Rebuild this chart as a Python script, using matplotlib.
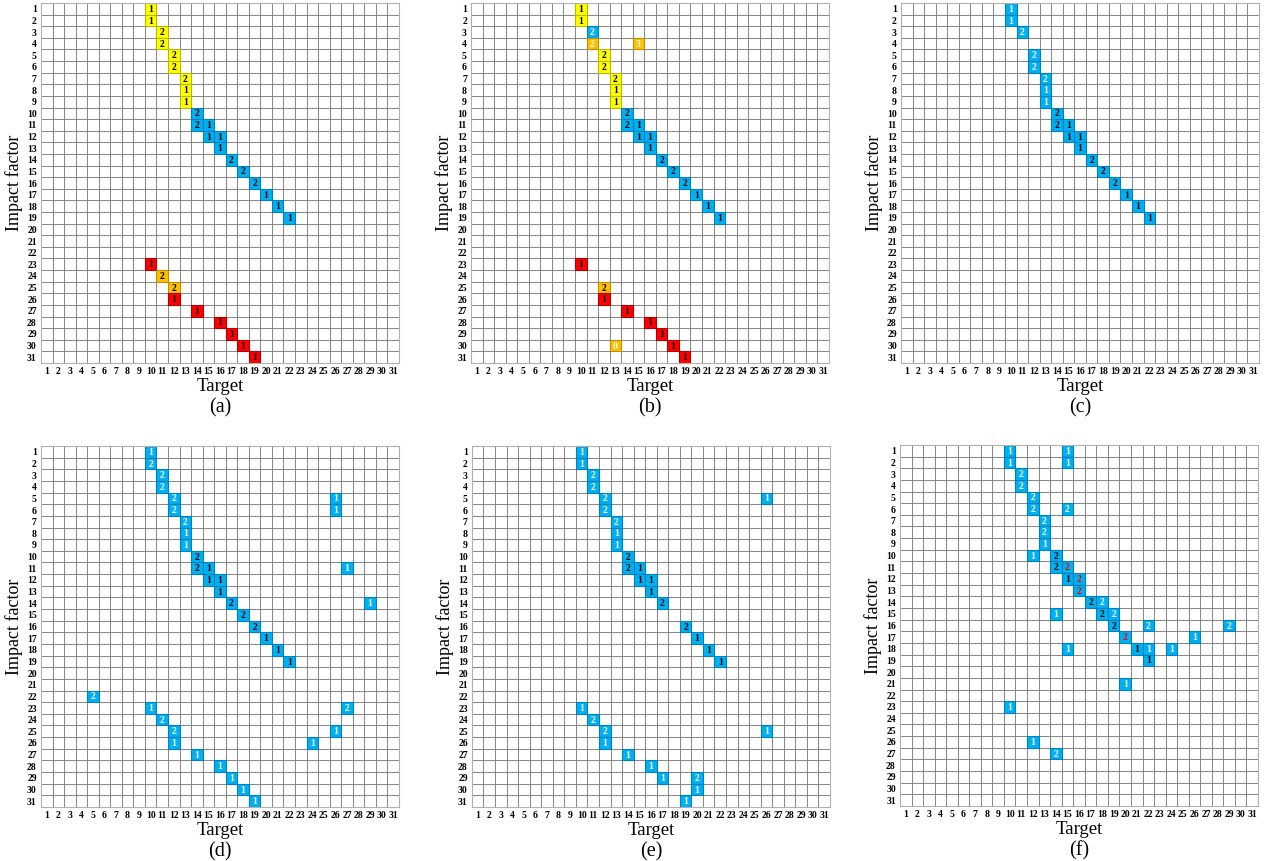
import numpy as np
import matplotlib
matplotlib.use("Agg")
import matplotlib.pyplot as plt
from matplotlib.patches import Rectangle

plt.rcParams["font.family"] = ["Liberation Serif", "DejaVu Serif"]

# fill codes: Y yellow, B blue, O orange, R red ; text codes: k black, w white, r red
N = 31
labels = [str(i) for i in range(1, N + 1)]
captions = ["(a)", "(b)", "(c)", "(d)", "(e)", "(f)"]

# (row, col, value, fill, text)
cells_a = [
    (1, 10, 1, "Y", "k"), (2, 10, 1, "Y", "k"), (3, 11, 2, "Y", "k"), (4, 11, 2, "Y", "k"),
    (5, 12, 2, "Y", "k"), (6, 12, 2, "Y", "k"), (7, 13, 2, "Y", "k"), (8, 13, 1, "Y", "k"),
    (9, 13, 1, "Y", "k"),
    (10, 14, 2, "B", "k"), (11, 14, 2, "B", "k"), (11, 15, 1, "B", "k"), (12, 15, 1, "B", "k"),
    (12, 16, 1, "B", "k"), (13, 16, 1, "B", "k"), (14, 17, 2, "B", "k"), (15, 18, 2, "B", "k"),
    (16, 19, 2, "B", "k"), (17, 20, 1, "B", "k"), (18, 21, 1, "B", "k"), (19, 22, 1, "B", "k"),
    (23, 10, 1, "R", "k"), (24, 11, 2, "O", "k"), (25, 12, 2, "O", "k"), (26, 12, 1, "R", "k"),
    (27, 14, 1, "R", "k"), (28, 16, 1, "R", "k"), (29, 17, 1, "R", "k"), (30, 18, 1, "R", "k"),
    (31, 19, 1, "R", "k"),
]

cells_b = [
    (1, 10, 1, "Y", "k"), (2, 10, 1, "Y", "k"), (3, 11, 2, "B", "w"), (4, 11, 2, "O", "w"),
    (4, 15, 3, "O", "w"),
    (5, 12, 2, "Y", "k"), (6, 12, 2, "Y", "k"), (7, 13, 2, "Y", "k"), (8, 13, 1, "Y", "k"),
    (9, 13, 1, "Y", "k"),
    (10, 14, 2, "B", "k"), (11, 14, 2, "B", "k"), (11, 15, 1, "B", "k"), (12, 15, 1, "B", "k"),
    (12, 16, 1, "B", "k"), (13, 16, 1, "B", "k"), (14, 17, 2, "B", "k"), (15, 18, 2, "B", "k"),
    (16, 19, 2, "B", "k"), (17, 20, 1, "B", "k"), (18, 21, 1, "B", "k"), (19, 22, 1, "B", "k"),
    (23, 10, 1, "R", "k"), (25, 12, 2, "O", "k"), (26, 12, 1, "R", "k"),
    (27, 14, 1, "R", "k"), (28, 16, 1, "R", "k"), (29, 17, 1, "R", "k"), (30, 18, 1, "R", "k"),
    (30, 13, 0, "O", "w"), (31, 19, 1, "R", "k"),
]

cells_c = [
    (1, 10, 1, "B", "w"), (2, 10, 1, "B", "w"), (3, 11, 2, "B", "w"),
    (5, 12, 2, "B", "w"), (6, 12, 2, "B", "w"), (7, 13, 2, "B", "w"), (8, 13, 1, "B", "w"),
    (9, 13, 1, "B", "w"),
    (10, 14, 2, "B", "k"), (11, 14, 2, "B", "k"), (11, 15, 1, "B", "k"), (12, 15, 1, "B", "k"),
    (12, 16, 1, "B", "k"), (13, 16, 1, "B", "k"), (14, 17, 2, "B", "k"), (15, 18, 2, "B", "k"),
    (16, 19, 2, "B", "k"), (17, 20, 1, "B", "k"), (18, 21, 1, "B", "k"), (19, 22, 1, "B", "k"),
]

cells_d = [
    (1, 10, 1, "B", "w"), (2, 10, 2, "B", "w"), (3, 11, 2, "B", "w"), (4, 11, 2, "B", "w"),
    (5, 12, 2, "B", "w"), (6, 12, 2, "B", "w"), (5, 26, 1, "B", "w"), (6, 26, 1, "B", "w"),
    (7, 13, 2, "B", "w"), (8, 13, 1, "B", "w"), (9, 13, 1, "B", "w"),
    (10, 14, 2, "B", "k"), (11, 14, 2, "B", "k"), (11, 15, 1, "B", "k"), (11, 27, 1, "B", "w"),
    (12, 15, 1, "B", "k"), (12, 16, 1, "B", "k"), (13, 16, 1, "B", "k"), (14, 17, 2, "B", "k"),
    (14, 29, 1, "B", "w"), (15, 18, 2, "B", "k"), (16, 19, 2, "B", "k"), (17, 20, 1, "B", "k"),
    (18, 21, 1, "B", "k"), (19, 22, 1, "B", "k"),
    (22, 5, 2, "B", "w"), (23, 10, 1, "B", "w"), (23, 27, 2, "B", "w"), (24, 11, 2, "B", "w"),
    (25, 12, 2, "B", "w"), (25, 26, 1, "B", "w"), (26, 12, 1, "B", "w"), (26, 24, 1, "B", "w"),
    (27, 14, 1, "B", "w"), (28, 16, 1, "B", "w"), (29, 17, 1, "B", "w"), (30, 18, 1, "B", "w"),
    (31, 19, 1, "B", "w"),
]

cells_e = [
    (1, 10, 1, "B", "w"), (2, 10, 1, "B", "w"), (3, 11, 2, "B", "w"), (4, 11, 2, "B", "w"),
    (5, 12, 2, "B", "w"), (6, 12, 2, "B", "w"), (5, 26, 1, "B", "w"),
    (7, 13, 2, "B", "w"), (8, 13, 1, "B", "w"), (9, 13, 1, "B", "w"),
    (10, 14, 2, "B", "k"), (11, 14, 2, "B", "k"), (11, 15, 1, "B", "k"), (12, 15, 1, "B", "k"),
    (12, 16, 1, "B", "k"), (13, 16, 1, "B", "k"), (14, 17, 2, "B", "k"), (16, 19, 2, "B", "k"),
    (17, 20, 1, "B", "k"), (18, 21, 1, "B", "k"), (19, 22, 1, "B", "k"),
    (23, 10, 1, "B", "w"), (24, 11, 2, "B", "w"), (25, 12, 2, "B", "w"), (25, 26, 1, "B", "w"),
    (26, 12, 1, "B", "w"), (27, 14, 1, "B", "w"), (28, 16, 1, "B", "w"), (29, 17, 1, "B", "w"),
    (29, 20, 2, "B", "w"), (30, 20, 1, "B", "w"), (31, 19, 1, "B", "w"),
]

cells_f = [
    (1, 10, 1, "B", "w"), (1, 15, 1, "B", "w"), (2, 10, 1, "B", "w"), (2, 15, 1, "B", "w"),
    (3, 11, 2, "B", "w"), (4, 11, 2, "B", "w"), (5, 12, 2, "B", "w"), (6, 12, 2, "B", "w"),
    (6, 15, 2, "B", "w"), (7, 13, 2, "B", "w"), (8, 13, 2, "B", "w"), (9, 13, 1, "B", "w"),
    (10, 12, 1, "B", "w"), (10, 14, 2, "B", "k"), (11, 14, 2, "B", "k"), (11, 15, 2, "B", "r"),
    (12, 15, 1, "B", "k"), (12, 16, 2, "B", "r"), (13, 16, 2, "B", "r"), (14, 17, 2, "B", "k"),
    (14, 18, 2, "B", "w"), (15, 14, 1, "B", "w"), (15, 18, 2, "B", "k"), (15, 19, 2, "B", "w"),
    (16, 19, 2, "B", "k"), (16, 22, 2, "B", "w"), (16, 29, 2, "B", "w"), (17, 20, 2, "B", "r"),
    (17, 26, 1, "B", "w"), (18, 15, 1, "B", "w"), (18, 21, 1, "B", "k"), (18, 22, 1, "B", "w"),
    (18, 24, 1, "B", "w"), (19, 22, 1, "B", "k"), (21, 20, 1, "B", "w"), (23, 10, 1, "B", "w"),
    (26, 12, 1, "B", "w"), (27, 14, 2, "B", "w"),
]

fills = {"Y": "#FFFF00", "B": "#00B0F0", "O": "#FFC000", "R": "#FF0000"}
edges = {"Y": "#B8B800", "B": "#0080C0", "O": "#C09000", "R": "#B00000"}
txt_colors = {"k": "black", "w": "white", "r": "#FF0000"}

panels = [cells_a, cells_b, cells_c, cells_d, cells_e, cells_f]
positions = [
    [0.0323, 0.5784, 0.2823, 0.4181],
    [0.3715, 0.5784, 0.2823, 0.4181],
    [0.7106, 0.5784, 0.2823, 0.4181],
    [0.0323, 0.0627, 0.2823, 0.4193],
    [0.3722, 0.0627, 0.2823, 0.4193],
    [0.7098, 0.0639, 0.2823, 0.4193],
]

fig = plt.figure(figsize=(12.68, 8.61), dpi=100)

for cells, pos, cap in zip(panels, positions, captions):
    ax = fig.add_axes(pos)
    ax.set_xlim(0.5, N + 0.5)
    ax.set_ylim(N + 0.5, 0.5)

    for r, c, v, f, t in cells:
        ax.add_patch(Rectangle((c - 0.5, r - 0.5), 1, 1, facecolor=fills[f],
                               edgecolor=edges[f], linewidth=0.8, zorder=2))
        ax.text(c, r + 0.05, str(v), ha="center", va="center", fontsize=7,
                fontweight="bold", color=txt_colors[t], zorder=3)

    # grid
    for k in np.arange(1.5, N, 1):
        ax.axvline(k, color="#858585", lw=0.7, zorder=1)
        ax.axhline(k, color="#858585", lw=0.7, zorder=1)

    ax.set_xticks(range(1, N + 1))
    ax.set_yticks(range(1, N + 1))
    ax.set_xticklabels(labels, fontsize=7, fontweight="bold")
    ax.set_yticklabels(labels, fontsize=7, fontweight="bold")
    ax.tick_params(length=0, pad=3)
    for s in ax.spines.values():
        s.set_color("#b0b0b0")
        s.set_linewidth(0.8)

    ax.set_xlabel("Target", fontsize=13.5, labelpad=1)
    ax.set_ylabel("Impact factor", fontsize=13, labelpad=3)
    ax.text(0.5, -0.125, cap, transform=ax.transAxes, ha="center", va="center",
            fontsize=14.5)

fig.savefig("out.png", dpi=100)
